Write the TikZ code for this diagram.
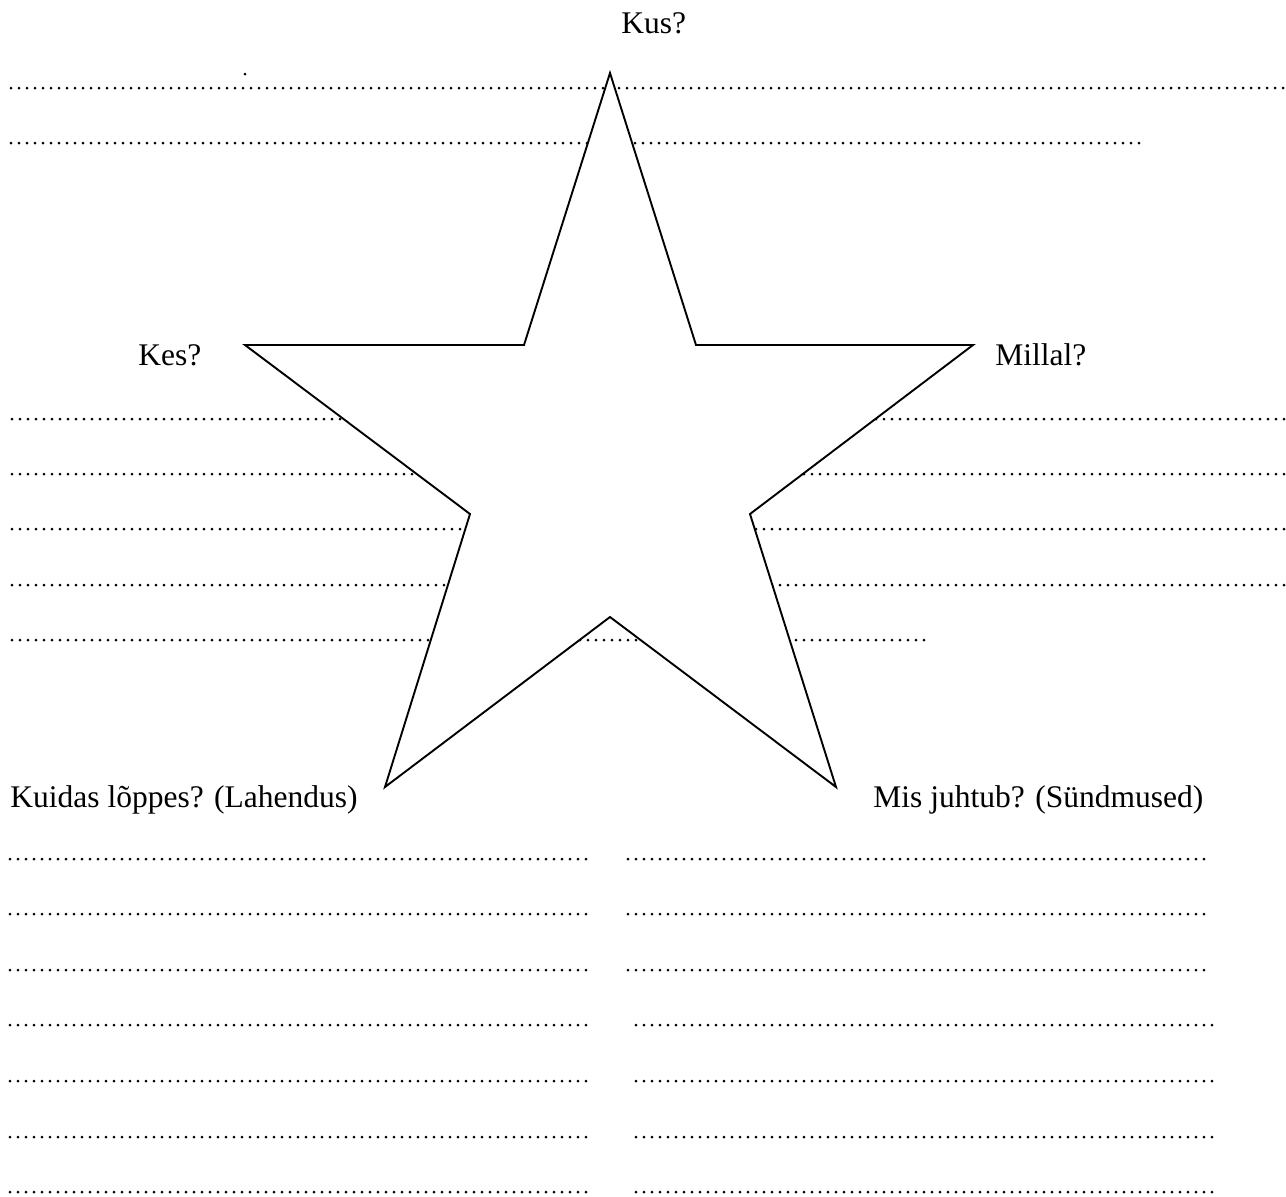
\documentclass[tikz,border=0pt]{standalone}
\usepackage{fontspec}
\setmainfont{Liberation Serif}
\begin{document}
\begin{tikzpicture}[x=0.5pt,y=-0.5pt,
  dotline/.style={line width=1.5pt, line cap=round, dash pattern=on 0pt off 4pt},
  starline/.style={line width=0.95pt, line join=miter, fill=white, draw=black},
  lbl/.style={anchor=base west, inner sep=0pt, font=\fontsize{15.75}{18}\selectfont}]
\useasboundingbox (0,0) rectangle (1286,1196);
% top lines
\draw[dotline] (11,88) -- (1286,88);
\draw[dotline] (11,143) -- (1142,143);
\fill (245,74) circle (1.5);
% middle lines
\foreach \y in {419,474,529,585} \draw[dotline] (12,\y) -- (1286,\y);
\draw[dotline] (12,640) -- (928,640);
% bottom lines
\foreach \y in {859,914,970,1025,1081,1137,1192} \draw[dotline] (10,\y) -- (591,\y);
\foreach \y in {859,914,970} \draw[dotline] (628,\y) -- (1208,\y);
\foreach \y in {1025,1081,1137,1192} \draw[dotline] (636,\y) -- (1217,\y);
% star
\draw[starline] (610,73) -- (696,345) -- (973,345) -- (750,514) -- (836,787)
  -- (610,617) -- (385,787) -- (470,514) -- (245,345) -- (524,345) -- cycle;
% labels
\node[lbl] (kus) at (621,33) {Kus?};
\node[lbl] (kes) at (138,365) {Kes?};
\node[lbl] (millal) at (995,365) {Millal?};
\node[lbl] (kuidas) at (10,807) {Kuidas lõppes? (Lahendus)};
\node[lbl] (mis) at (873,807) {Mis juhtub? (Sündmused)};
\end{tikzpicture}
\end{document}
